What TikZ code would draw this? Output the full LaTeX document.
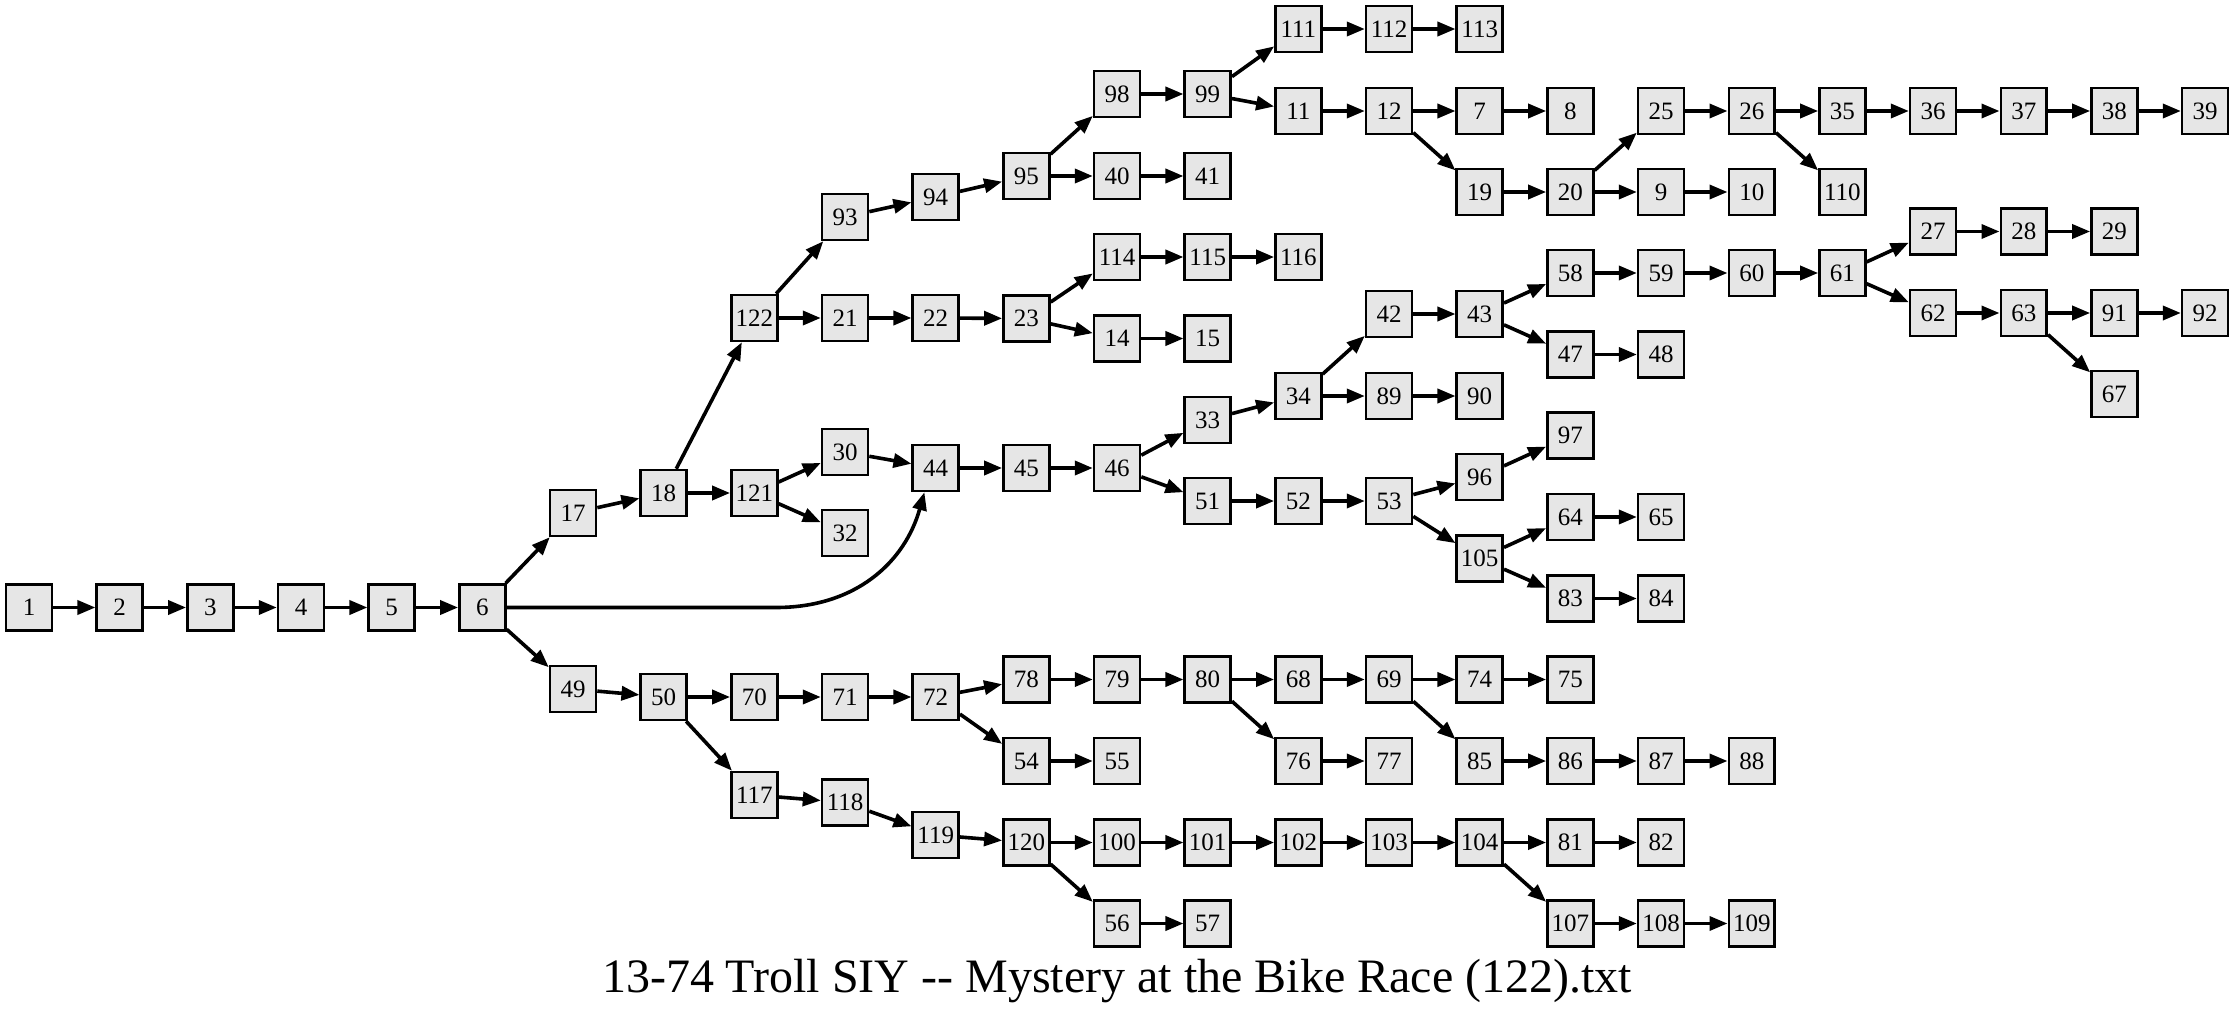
\documentclass[tikz,border=0pt]{standalone}
\usepackage{fontspec}
\setmainfont{Liberation Serif}[Ligatures=TeXOff]
\usetikzlibrary{arrows.meta}
\definecolor{boxgray}{HTML}{E6E6E6}

\begin{document}
\begin{tikzpicture}[x=90.67pt,y=-1pt,
  box/.style={draw,line width=2.6pt,fill=boxgray,minimum size=45.9pt,inner sep=0pt,font=\fontsize{25}{27}\selectfont},
  arr/.style={line width=3.6pt,-{Triangle[length=18pt,width=14pt]}}]
\useasboundingbox (-0.32,0) rectangle (24.33,1012);
% main line
\node[box] (n1) at (0,607.5){1};
\node[box] (n2) at (1,607.5){2};
\node[box] (n3) at (2,607.5){3};
\node[box] (n4) at (3,607.5){4};
\node[box] (n5) at (4,607.5){5};
\node[box] (n6) at (5,607.5){6};
\node[box] (n17) at (6,513){17};
\node[box] (n49) at (6,689){49};
\node[box] (n18) at (7,493){18};
\node[box] (n50) at (7,697){50};
\node[box] (n122) at (8,318){122};
\node[box] (n121) at (8,493){121};
\node[box] (n70) at (8,697){70};
\node[box] (n117) at (8,795){117};
\node[box] (n93) at (9,217){93};
\node[box] (n21) at (9,318){21};
\node[box] (n30) at (9,452){30};
\node[box] (n32) at (9,533){32};
\node[box] (n71) at (9,697){71};
\node[box] (n118) at (9,802.5){118};
\node[box] (n94) at (10,197){94};
\node[box] (n22) at (10,318){22};
\node[box] (n44) at (10,468){44};
\node[box] (n72) at (10,697){72};
\node[box] (n119) at (10,835){119};
\node[box] (n95) at (11,176){95};
\node[box] (n23) at (11,318.5){23};
\node[box] (n45) at (11,468){45};
\node[box] (n78) at (11,679.5){78};
\node[box] (n54) at (11,761){54};
\node[box] (n120) at (11,842.5){120};
\node[box] (n98) at (12,94){98};
\node[box] (n40) at (12,176){40};
\node[box] (n114) at (12,257){114};
\node[box] (n14) at (12,338.5){14};
\node[box] (n46) at (12,468){46};
\node[box] (n79) at (12,679.5){79};
\node[box] (n55) at (12,761){55};
\node[box] (n100) at (12,842.5){100};
\node[box] (n56) at (12,923.5){56};
\node[box] (n99) at (13,94){99};
\node[box] (n41) at (13,176){41};
\node[box] (n115) at (13,257){115};
\node[box] (n15) at (13,338.5){15};
\node[box] (n33) at (13,420){33};
\node[box] (n51) at (13,501){51};
\node[box] (n80) at (13,679.5){80};
\node[box] (n101) at (13,842.5){101};
\node[box] (n57) at (13,923.5){57};
\node[box] (n111) at (14,29){111};
\node[box] (n11) at (14,111){11};
\node[box] (n116) at (14,257){116};
\node[box] (n34) at (14,396){34};
\node[box] (n52) at (14,501){52};
\node[box] (n68) at (14,679.5){68};
\node[box] (n76) at (14,761){76};
\node[box] (n102) at (14,842.5){102};
\node[box] (n112) at (15,29){112};
\node[box] (n12) at (15,111){12};
\node[box] (n42) at (15,314){42};
\node[box] (n89) at (15,396){89};
\node[box] (n53) at (15,501){53};
\node[box] (n69) at (15,679.5){69};
\node[box] (n77) at (15,761){77};
\node[box] (n103) at (15,842.5){103};
\node[box] (n113) at (16,29){113};
\node[box] (n7) at (16,111){7};
\node[box] (n19) at (16,192){19};
\node[box] (n43) at (16,314){43};
\node[box] (n90) at (16,396){90};
\node[box] (n96) at (16,477){96};
\node[box] (n105) at (16,558.5){105};
\node[box] (n74) at (16,679.5){74};
\node[box] (n85) at (16,761){85};
\node[box] (n104) at (16,842.5){104};
\node[box] (n8) at (17,111){8};
\node[box] (n20) at (17,192){20};
\node[box] (n58) at (17,273){58};
\node[box] (n47) at (17,354.5){47};
\node[box] (n97) at (17,435.5){97};
\node[box] (n64) at (17,517){64};
\node[box] (n83) at (17,598.5){83};
\node[box] (n75) at (17,679.5){75};
\node[box] (n86) at (17,761){86};
\node[box] (n81) at (17,842.5){81};
\node[box] (n107) at (17,923.5){107};
\node[box] (n25) at (18,111){25};
\node[box] (n9) at (18,192){9};
\node[box] (n59) at (18,273){59};
\node[box] (n48) at (18,354.5){48};
\node[box] (n65) at (18,517){65};
\node[box] (n84) at (18,598.5){84};
\node[box] (n87) at (18,761){87};
\node[box] (n82) at (18,842.5){82};
\node[box] (n108) at (18,923.5){108};
\node[box] (n26) at (19,111){26};
\node[box] (n10) at (19,192){10};
\node[box] (n60) at (19,273){60};
\node[box] (n88) at (19,761){88};
\node[box] (n109) at (19,923.5){109};
\node[box] (n35) at (20,111){35};
\node[box] (n110) at (20,192){110};
\node[box] (n61) at (20,273){61};
\node[box] (n36) at (21,111){36};
\node[box] (n27) at (21,231.5){27};
\node[box] (n62) at (21,313){62};
\node[box] (n37) at (22,111){37};
\node[box] (n28) at (22,231.5){28};
\node[box] (n63) at (22,313){63};
\node[box] (n38) at (23,111){38};
\node[box] (n29) at (23,231.5){29};
\node[box] (n91) at (23,313){91};
\node[box] (n67) at (23,394){67};
\node[box] (n39) at (24,111){39};
\node[box] (n92) at (24,313){92};
% links
\draw[arr] (n1) edge (n2) (n2) edge (n3) (n3) edge (n4) (n4) edge (n5) (n5) edge (n6);
\draw[arr] (n6) edge (n17) edge (n49);
\draw[arr] (n6.east) -- (8.24,607.5) .. controls (9.12,607.5) and (9.66,562) .. (n44.-115);
\draw[arr] (n17) edge (n18) (n49) edge (n50);
\draw[arr] (n18) edge (n122) edge (n121);
\draw[arr] (n50) edge (n70) edge (n117);
\draw[arr] (n122) edge (n93) edge (n21);
\draw[arr] (n121) edge (n30) edge (n32);
\draw[arr] (n70) edge (n71) (n117) edge (n118) (n93) edge (n94) (n21) edge (n22);
\draw[arr] (n30) edge (n44) (n71) edge (n72) (n118) edge (n119) (n94) edge (n95);
\draw[arr] (n22) edge (n23) (n44) edge (n45) (n119) edge (n120);
\draw[arr] (n72) edge (n78) edge (n54);
\draw[arr] (n95) edge (n98) edge (n40);
\draw[arr] (n23) edge (n114) edge (n14);
\draw[arr] (n120) edge (n100) edge (n56);
\draw[arr] (n45) edge (n46) (n78) edge (n79) (n54) edge (n55);
\draw[arr] (n98) edge (n99) (n40) edge (n41) (n114) edge (n115) (n14) edge (n15);
\draw[arr] (n46) edge (n33) edge (n51);
\draw[arr] (n79) edge (n80) (n100) edge (n101) (n56) edge (n57);
\draw[arr] (n99) edge (n111) edge (n11);
\draw[arr] (n80) edge (n68) edge (n76);
\draw[arr] (n115) edge (n116) (n33) edge (n34) (n51) edge (n52) (n101) edge (n102);
\draw[arr] (n111) edge (n112) (n11) edge (n12) (n52) edge (n53) (n68) edge (n69);
\draw[arr] (n34) edge (n42) edge (n89);
\draw[arr] (n76) edge (n77) (n102) edge (n103) (n112) edge (n113);
\draw[arr] (n12) edge (n7) edge (n19);
\draw[arr] (n53) edge (n96) edge (n105);
\draw[arr] (n69) edge (n74) edge (n85);
\draw[arr] (n42) edge (n43) (n89) edge (n90) (n103) edge (n104);
\draw[arr] (n7) edge (n8) (n19) edge (n20) (n96) edge (n97);
\draw[arr] (n43) edge (n58) edge (n47);
\draw[arr] (n105) edge (n64) edge (n83);
\draw[arr] (n104) edge (n81) edge (n107);
\draw[arr] (n74) edge (n75) (n85) edge (n86);
\draw[arr] (n20) edge (n25) edge (n9);
\draw[arr] (n58) edge (n59) (n47) edge (n48) (n64) edge (n65) (n83) edge (n84);
\draw[arr] (n86) edge (n87) (n81) edge (n82) (n107) edge (n108);
\draw[arr] (n25) edge (n26) (n9) edge (n10) (n59) edge (n60);
\draw[arr] (n87) edge (n88) (n108) edge (n109);
\draw[arr] (n26) edge (n35) edge (n110);
\draw[arr] (n60) edge (n61) (n35) edge (n36);
\draw[arr] (n61) edge (n27) edge (n62);
\draw[arr] (n36) edge (n37) (n27) edge (n28) (n62) edge (n63);
\draw[arr] (n37) edge (n38) (n28) edge (n29);
\draw[arr] (n63) edge (n91) edge (n67);
\draw[arr] (n38) edge (n39) (n91) edge (n92);
% caption
\node[anchor=base,font=\fontsize{48}{52}\selectfont] (cap) at (12,992){13-74 Troll SIY -- Mystery at the Bike Race (122).txt};
\end{tikzpicture}
\end{document}
